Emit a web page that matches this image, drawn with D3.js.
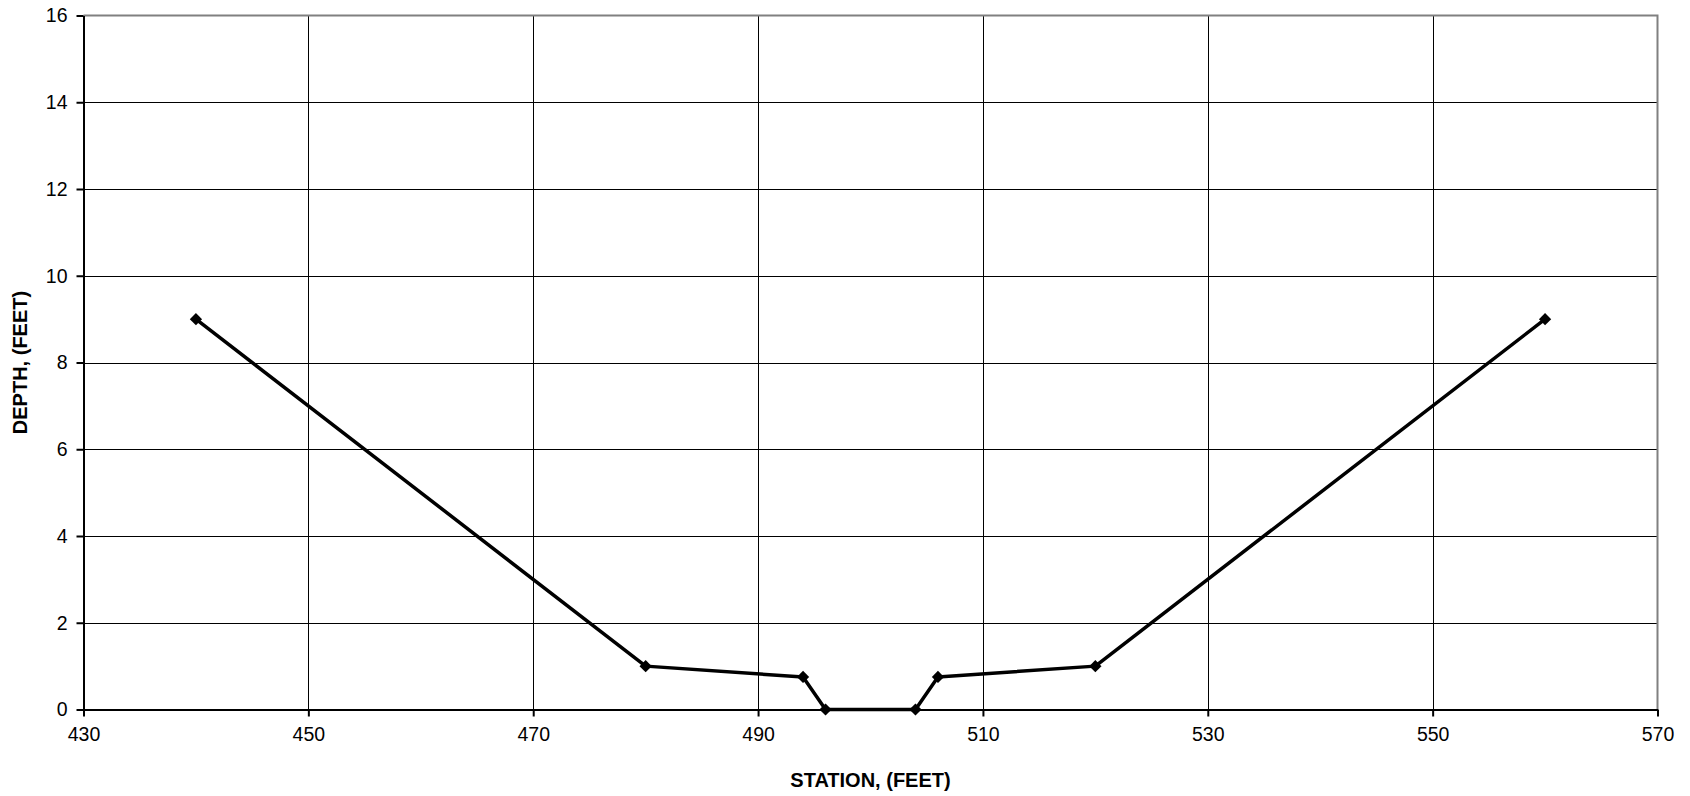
<!DOCTYPE html>
<html>
<head>
<meta charset="utf-8">
<script src="https://cdn.jsdelivr.net/npm/d3@7"></script>
<style>
	body { margin: 0; background: #fff; }
	svg { display: block; font-family: Arial, "Liberation Sans", sans-serif; }
</style>
</head>
<body>
<svg id="chart" width="1690" height="796"></svg>
<script>
(function (d3) {
	"use strict";

	/***** Data *****/
	var stations = [440, 480, 494, 496, 504, 506, 520, 560];
	var depths = [9, 1, 0.75, 0, 0, 0.75, 1, 9];
	var xTicks = [430, 450, 470, 490, 510, 530, 550, 570];
	var yTicks = [0, 2, 4, 6, 8, 10, 12, 14, 16];

	/***** Layout *****/
	const left = 83.5, right = 1657.5, top = 15.5, bottom = 709.5;

	var svg = d3.select("#chart");

	// Scales
	var x = d3.scaleLinear().domain([430, 570]).range([left, right]);
	var y = d3.scaleLinear().domain([0, 16]).range([bottom, top]);

	// Grid lines
	svg.append("g").selectAll("line")
		.data(xTicks.slice(1, -1))
		.join("line")
		.attr("x1", d => Math.round(x(d)) + 0.5).attr("x2", d => Math.round(x(d)) + 0.5)
		.attr("y1", top).attr("y2", bottom)
		.attr("stroke", "#000").attr("stroke-width", 1);

	svg.append("g").selectAll("line")
		.data(yTicks.slice(1, -1))
		.join("line")
		.attr("x1", left).attr("x2", right)
		.attr("y1", d => Math.round(y(d)) + 0.5).attr("y2", d => Math.round(y(d)) + 0.5)
		.attr("stroke", "#000").attr("stroke-width", 1);

	// Gray frame on top and right
	svg.append("path")
		.attr("d", "M" + left + "," + top + "H" + right + "V" + bottom)
		.attr("fill", "none").attr("stroke", "#808080").attr("stroke-width", 2);

	// Axes
	var xAxis = d3.axisBottom(x).tickValues(xTicks).tickSize(7).tickSizeOuter(0).tickPadding(11);
	var yAxis = d3.axisLeft(y).tickValues(yTicks).tickSize(7).tickSizeOuter(0).tickPadding(9);

	var gx = svg.append("g").attr("transform", "translate(0," + bottom + ")").call(xAxis);
	var gy = svg.append("g").attr("transform", "translate(" + left + ",0)").call(yAxis);

	[gx, gy].forEach(function (g) {
		g.select(".domain").attr("stroke", "#000").attr("stroke-width", 2);
		g.selectAll(".tick line").attr("stroke", "#000").attr("stroke-width", 2);
		g.selectAll(".tick text")
			.attr("fill", "#000")
			.style("font-size", "19.5px")
			.style("font-family", "Arial, 'Liberation Sans', sans-serif");
	});

	// Axis titles
	svg.append("text")
		.attr("x", (left + right) / 2).attr("y", 787)
		.attr("text-anchor", "middle")
		.style("font-size", "20px").style("font-weight", "bold")
		.text("STATION, (FEET)");

	svg.append("text")
		.attr("transform", "translate(27," + ((top + bottom) / 2) + ") rotate(-90)")
		.attr("text-anchor", "middle")
		.style("font-size", "20px").style("font-weight", "bold")
		.text("DEPTH, (FEET)");

	// Series
	var points = stations.map((s, i) => [s, depths[i]]);
	var line = d3.line().x(d => x(d[0])).y(d => y(d[1]));

	svg.append("path")
		.datum(points)
		.attr("d", line)
		.attr("fill", "none")
		.attr("stroke", "#000")
		.attr("stroke-width", 3.5)
		.attr("stroke-linejoin", "round");

	var diamond = d3.symbol().type(d3.symbolSquare).size(75);
	svg.append("g").selectAll("path")
		.data(points)
		.join("path")
		.attr("d", diamond)
		.attr("transform", d => "translate(" + x(d[0]) + "," + y(d[1]) + ") rotate(45)")
		.attr("fill", "#000");

})(d3);
</script>
</body>
</html>
